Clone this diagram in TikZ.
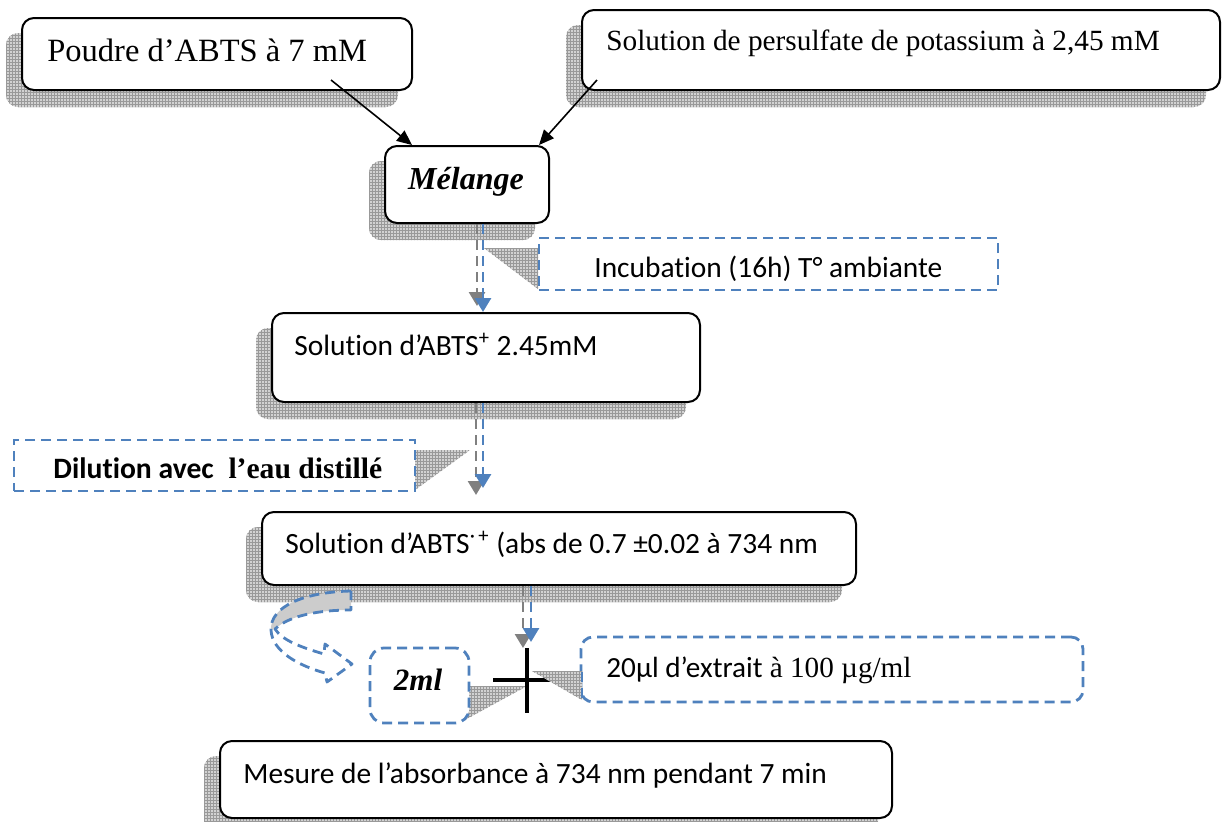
\documentclass[tikz,border=0pt]{standalone}
\usepackage{fontspec}
\setmainfont{Liberation Serif}
\newfontfamily\calib[Ligatures=NoCommon]{Carlito}
\usetikzlibrary{arrows.meta,calc,patterns}

% fine hatching used for the box shadows
\pgfdeclarepatternformonly{finegrid}{\pgfqpoint{-0.1pt}{-0.1pt}}{\pgfqpoint{1.6pt}{1.6pt}}{\pgfqpoint{1.5pt}{1.5pt}}{%
  \pgfsetlinewidth{0.3pt}%
  \pgfpathmoveto{\pgfqpoint{0pt}{0pt}}\pgfpathlineto{\pgfqpoint{1.5pt}{0pt}}%
  \pgfpathmoveto{\pgfqpoint{0pt}{0pt}}\pgfpathlineto{\pgfqpoint{0pt}{1.5pt}}%
  \pgfusepath{stroke}}

\definecolor{dashblue}{RGB}{79,129,189}
\definecolor{arrowgray}{RGB}{128,128,128}

\begin{document}
\begin{tikzpicture}[x=0.5pt,y=-0.5pt,
  solidbox/.style={draw=black, line width=1pt, fill=white, rounded corners=6pt, inner sep=0pt},
  dashbox/.style={draw=dashblue, line width=1.4pt, dash pattern=on 5pt off 3pt, fill=white, inner sep=0pt},
  shadowfill/.style={fill=gray!35, postaction={pattern=finegrid, pattern color=gray!80}},
  bluedash/.style={draw=dashblue, line width=1.4pt, dash pattern=on 5pt off 3pt,
    -{Triangle[length=7pt,width=8pt,fill=dashblue]}},
  graydash/.style={draw=arrowgray, line width=1.4pt, dash pattern=on 5pt off 3pt,
    -{Triangle[length=7pt,width=8pt,fill=arrowgray]}},
  blackarrow/.style={draw=black, line width=0.8pt, -{Triangle[length=7.5pt,width=6.5pt]}},
  serif/.style={font=\fontsize{14.65}{17}\selectfont, anchor=base west, inner sep=0pt},
  sans/.style={font=\calib\fontsize{14.7}{17}\selectfont, anchor=base west, inner sep=0pt}]

\useasboundingbox (0,0) rectangle (1227,821);
\clip (0,0) rectangle (1227,821);

% ---- box outlines (placed first so that shadows can refer to them)
\path
  node[solidbox, minimum width=195pt, minimum height=36pt, draw=none, fill=none] (A) at (217,54) {}
  node[solidbox, minimum width=319pt, minimum height=40pt, draw=none, fill=none] (B) at (901,50) {}
  node[solidbox, minimum width=82pt, minimum height=38.5pt, draw=none, fill=none] (C) at (467,184.5) {}
  node[solidbox, minimum width=214pt, minimum height=44.5pt, draw=none, fill=none] (E) at (486,357.5) {}
  node[solidbox, minimum width=297pt, minimum height=36.5pt, draw=none, fill=none] (F) at (559,548.5) {}
  node[solidbox, minimum width=336pt, minimum height=38.5pt, draw=none, fill=none] (K) at (556,779.5) {};

% ---- hatched shadows
\foreach \n in {A,B,C,E,F,K}
  \path[shadowfill, rounded corners=6pt]
    ([shift={(-15,16)}]\n.north west) rectangle ([shift={(-15,16)}]\n.south east);

% ---- callout pointers
\path[shadowfill] (484,248) -- (538,248) -- (538,289) -- cycle;
\path[shadowfill] (415,450) -- (470,450) -- (415,490) -- cycle;
\path[shadowfill] (469,686) -- (527,686) -- (463,721) -- cycle;

% ---- grey shadow arrows
\draw[graydash] ($(C.south)+(10,0)$) -- ($(C.south)+(10,82)$);
\draw[graydash] ($(E.south)+(-10,0)$) -- ($(E.south)+(-10,92)$);
\coordinate (X) at (527,680);
\draw[graydash] ($(F.south)+(-36,0)$) -- ($(F.south)+(-36,62)$);

% ---- boxes
\node[solidbox, minimum width=195pt, minimum height=36pt] (A) at (217,54) {};
\node[solidbox, minimum width=319pt, minimum height=40pt] (B) at (901,50) {};
\node[solidbox, minimum width=82pt, minimum height=38.5pt] (C) at (467,184.5) {};
\node[dashbox, minimum width=229.5pt, minimum height=26pt] (D) at (768.5,264) {};
\node[solidbox, minimum width=214pt, minimum height=44.5pt] (E) at (486,357.5) {};
\node[dashbox, minimum width=200.5pt, minimum height=25.5pt] (G) at (214.5,465.5) {};
\node[solidbox, minimum width=297pt, minimum height=36.5pt] (F) at (559,548.5) {};
\node[dashbox, rounded corners=7pt, minimum width=49.5pt, minimum height=37.5pt] (H) at (419.5,685.5) {};
\node[dashbox, rounded corners=6pt, minimum width=251pt, minimum height=32.5pt] (I) at (832,669.5) {};
\node[solidbox, minimum width=336pt, minimum height=38.5pt] (K) at (556,779.5) {};

% ---- blue flow arrows
\draw[bluedash] ($(C.south)+(16,0)$) -- ($(E.north)+(-3,0)$);
\coordinate (e1) at (483,488);
\draw[bluedash] ($(E.south)+(-3,0)$) -- (e1);
\coordinate (f1) at (531,642);
\draw[bluedash] ($(F.south)+(-28,0)$) -- (f1);

% ---- inputs into the mixture
\coordinate (a1) at (331,80);
\coordinate (b1) at (597,80);
\draw[blackarrow] (a1) -- ($(C.north west)+(28,0)$);
\draw[blackarrow] (b1) -- ($(C.north east)+(-11,0)$);

% ---- addition sign
\draw[line width=1.6pt] ($(X)+(0,-32)$) -- ($(X)+(0,33)$);
\draw[line width=1.6pt] ($(X)+(-34,0)$) -- ($(X)+(33,0)$);
\path[shadowfill] (532,671) -- (582,671) -- (582,700) -- cycle;
\draw[dashblue, line width=1.4pt, dash pattern=on 5pt off 3pt] (582,672) -- (582,700);

% ---- curved arrow towards the 2 ml aliquot
\path[fill=gray!40] (351,591) .. controls (305,592) and (270,606) .. (271,630)
  -- (275,629) .. controls (290,615) and (320,610) .. (351,610) -- cycle;
\draw[dashblue, line width=1.4pt, dash pattern=on 5pt off 3pt, line join=round]
  (351,591) .. controls (305,592) and (270,606) .. (271,630)
  .. controls (272,652) and (300,666) .. (325,673)
  -- (327,682) -- (352,664) -- (325,644) -- (324,654)
  .. controls (300,647) and (282,640) .. (275,629)
  .. controls (290,615) and (320,610) .. (351,610) -- cycle;

% ---- texts
\node[serif, font=\fontsize{16.25}{19}\selectfont] (tA) at (47,61) {Poudre d’ABTS à 7 mM};
\node[serif] (tB) at (606,50) {Solution de persulfate de potassium à 2,45 mM};
\node[font=\bfseries\itshape\fontsize{16}{19}\selectfont, anchor=base, inner sep=0pt] (tC) at (466,189) {Mélange};
\node[sans] (tD) at (594,277) {Incubation (16h) T° ambiante};
\node[sans] (tE) at (294,355) {Solution d’ABTS\textsuperscript{+} 2.45mM};
\node[serif, font=\bfseries\fontsize{14.8}{17}\selectfont] (tG) at (53,478) {{\calib Dilution avec}\ \ l’eau distillé};
\node[sans] (tF) at (285,553) {Solution d’ABTS\textsuperscript{·\,+} (abs de 0.7 ±0.02 à 734 nm};
\node[font=\bfseries\itshape\fontsize{15.5}{18}\selectfont, anchor=base, inner sep=0pt] (tH) at (418,690) {2ml};
\node[serif, font=\fontsize{14.6}{17}\selectfont] (tI) at (606,677) {{\calib 20µl d’extrait} à 100 µg/ml};
\node[sans] (tK) at (243,783) {Mesure de l’absorbance à 734 nm pendant 7 min};

\end{tikzpicture}
\end{document}
